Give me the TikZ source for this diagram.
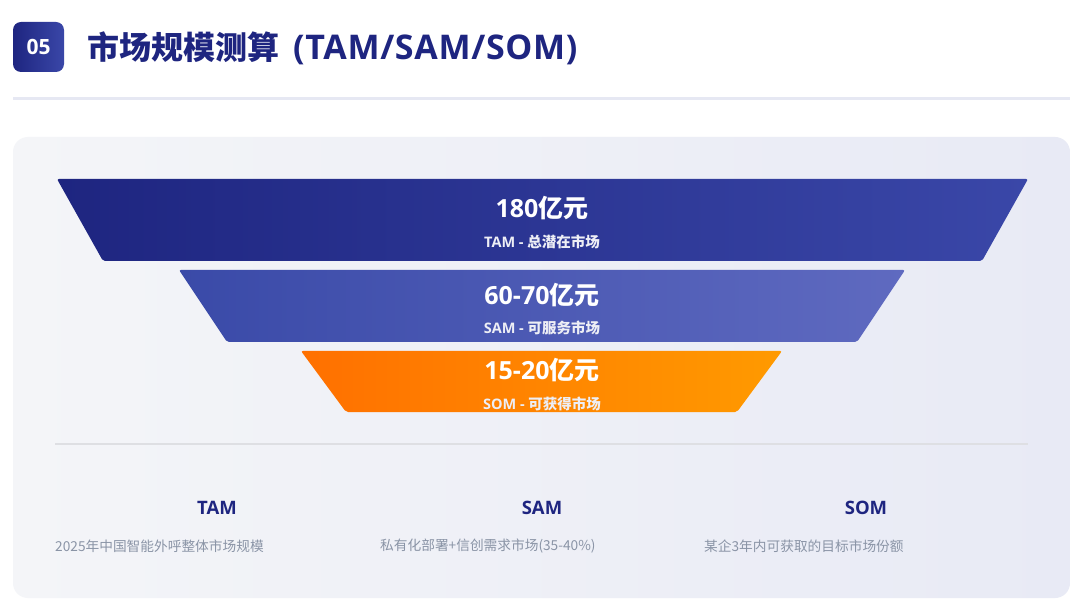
\documentclass[tikz,border=0pt]{standalone}
\usepackage{fontspec}
\setmainfont{Noto Sans CJK SC}
\newfontfamily\lat{Open Sans}
\newfontfamily\latwide[LetterSpace=2]{Open Sans}
\definecolor{navy}{HTML}{1E2580}
\definecolor{navyb}{HTML}{3A47A8}
\definecolor{midA}{HTML}{3A4AA8}
\definecolor{midB}{HTML}{5F6AC0}
\definecolor{orA}{HTML}{FF7000}
\definecolor{orB}{HTML}{FF9A00}
\definecolor{panelA}{HTML}{F4F5F8}
\definecolor{panelB}{HTML}{E8EAF5}
\definecolor{descgray}{HTML}{8A94A6}
\definecolor{sepline}{HTML}{E6E8F3}
\definecolor{divline}{HTML}{DEDFE3}
\tikzset{
  bigval/.style={text=white, font=\bfseries\fontsize{25}{28}\selectfont, inner sep=0pt},
  subval/.style={text=white!92!navy, font=\bfseries\fontsize{14.5}{16}\selectfont, inner sep=0pt},
  colhead/.style={text=navy, font=\lat\bfseries\fontsize{18.5}{22}\selectfont, inner sep=0pt},
  coldesc/.style={text=descgray, font=\fontsize{13.7}{16}\selectfont, inner sep=0pt, anchor=west},
}
\begin{document}
\begin{tikzpicture}[x=1pt,y=-1pt]
\useasboundingbox (0,0) rectangle (1080,604);
\fill[white] (0,0) rectangle (1080,604);
% header
\shade[rounded corners=8pt, left color=navy, right color=navyb] (13,22) rectangle (64,72);
\node[text=white, font=\lat\bfseries\fontsize{21}{24}\selectfont, inner sep=0pt] (badge) at (38.5,47) {05};
\node[text=navy, font=\bfseries\fontsize{32}{36}\selectfont, anchor=west, inner sep=0pt] (title) at (87,48) {市场规模测算\hspace{14pt}{\latwide\fontsize{34}{38}\selectfont (TAM/SAM/SOM)}};
\draw[sepline, line width=3pt] (13,99) -- (1070,99);
% panel
\shade[rounded corners=15pt, left color=panelA, right color=panelB] (13,137) rectangle (1070,598);
% funnel
\shade[rounded corners=2pt, left color=navy, right color=navyb] (57,179) -- (1028,179) -- (982,261) -- (103,261) -- cycle;
\shade[rounded corners=2pt, left color=midA, right color=midB] (179,270) -- (905,270) -- (857,342) -- (227,342) -- cycle;
\shade[rounded corners=2pt, left color=orA, right color=orB] (301,351) -- (782,351) -- (737,412) -- (346,412) -- cycle;
\node[bigval] (v1) at (542,208) {{\lat 180}亿元};
\node[subval] (s1) at (542,242) {{\lat TAM - }总潜在市场};
\node[bigval] (v2) at (542,295) {{\lat 60-70}亿元};
\node[subval] (s2) at (542,328) {{\lat SAM - }可服务市场};
\node[bigval] (v3) at (542,370) {{\lat 15-20}亿元};
\node[subval] (s3) at (542,404) {{\lat SOM - }可获得市场};
\draw[divline, line width=2pt] (55,444) -- (1028,444);
% columns
\node[colhead] (h1) at (217,508) {TAM};
\node[colhead] (h2) at (542,508) {SAM};
\node[colhead] (h3) at (866,508) {SOM};
\node[coldesc] (d1) at (55,546) {2025年中国智能外呼整体市场规模};
\node[coldesc] (d2) at (380,546) {私有化部署+信创需求市场(35-40\%)};
\node[coldesc] (d3) at (704,546) {某企3年内可获取的目标市场份额};
\end{tikzpicture}
\end{document}
